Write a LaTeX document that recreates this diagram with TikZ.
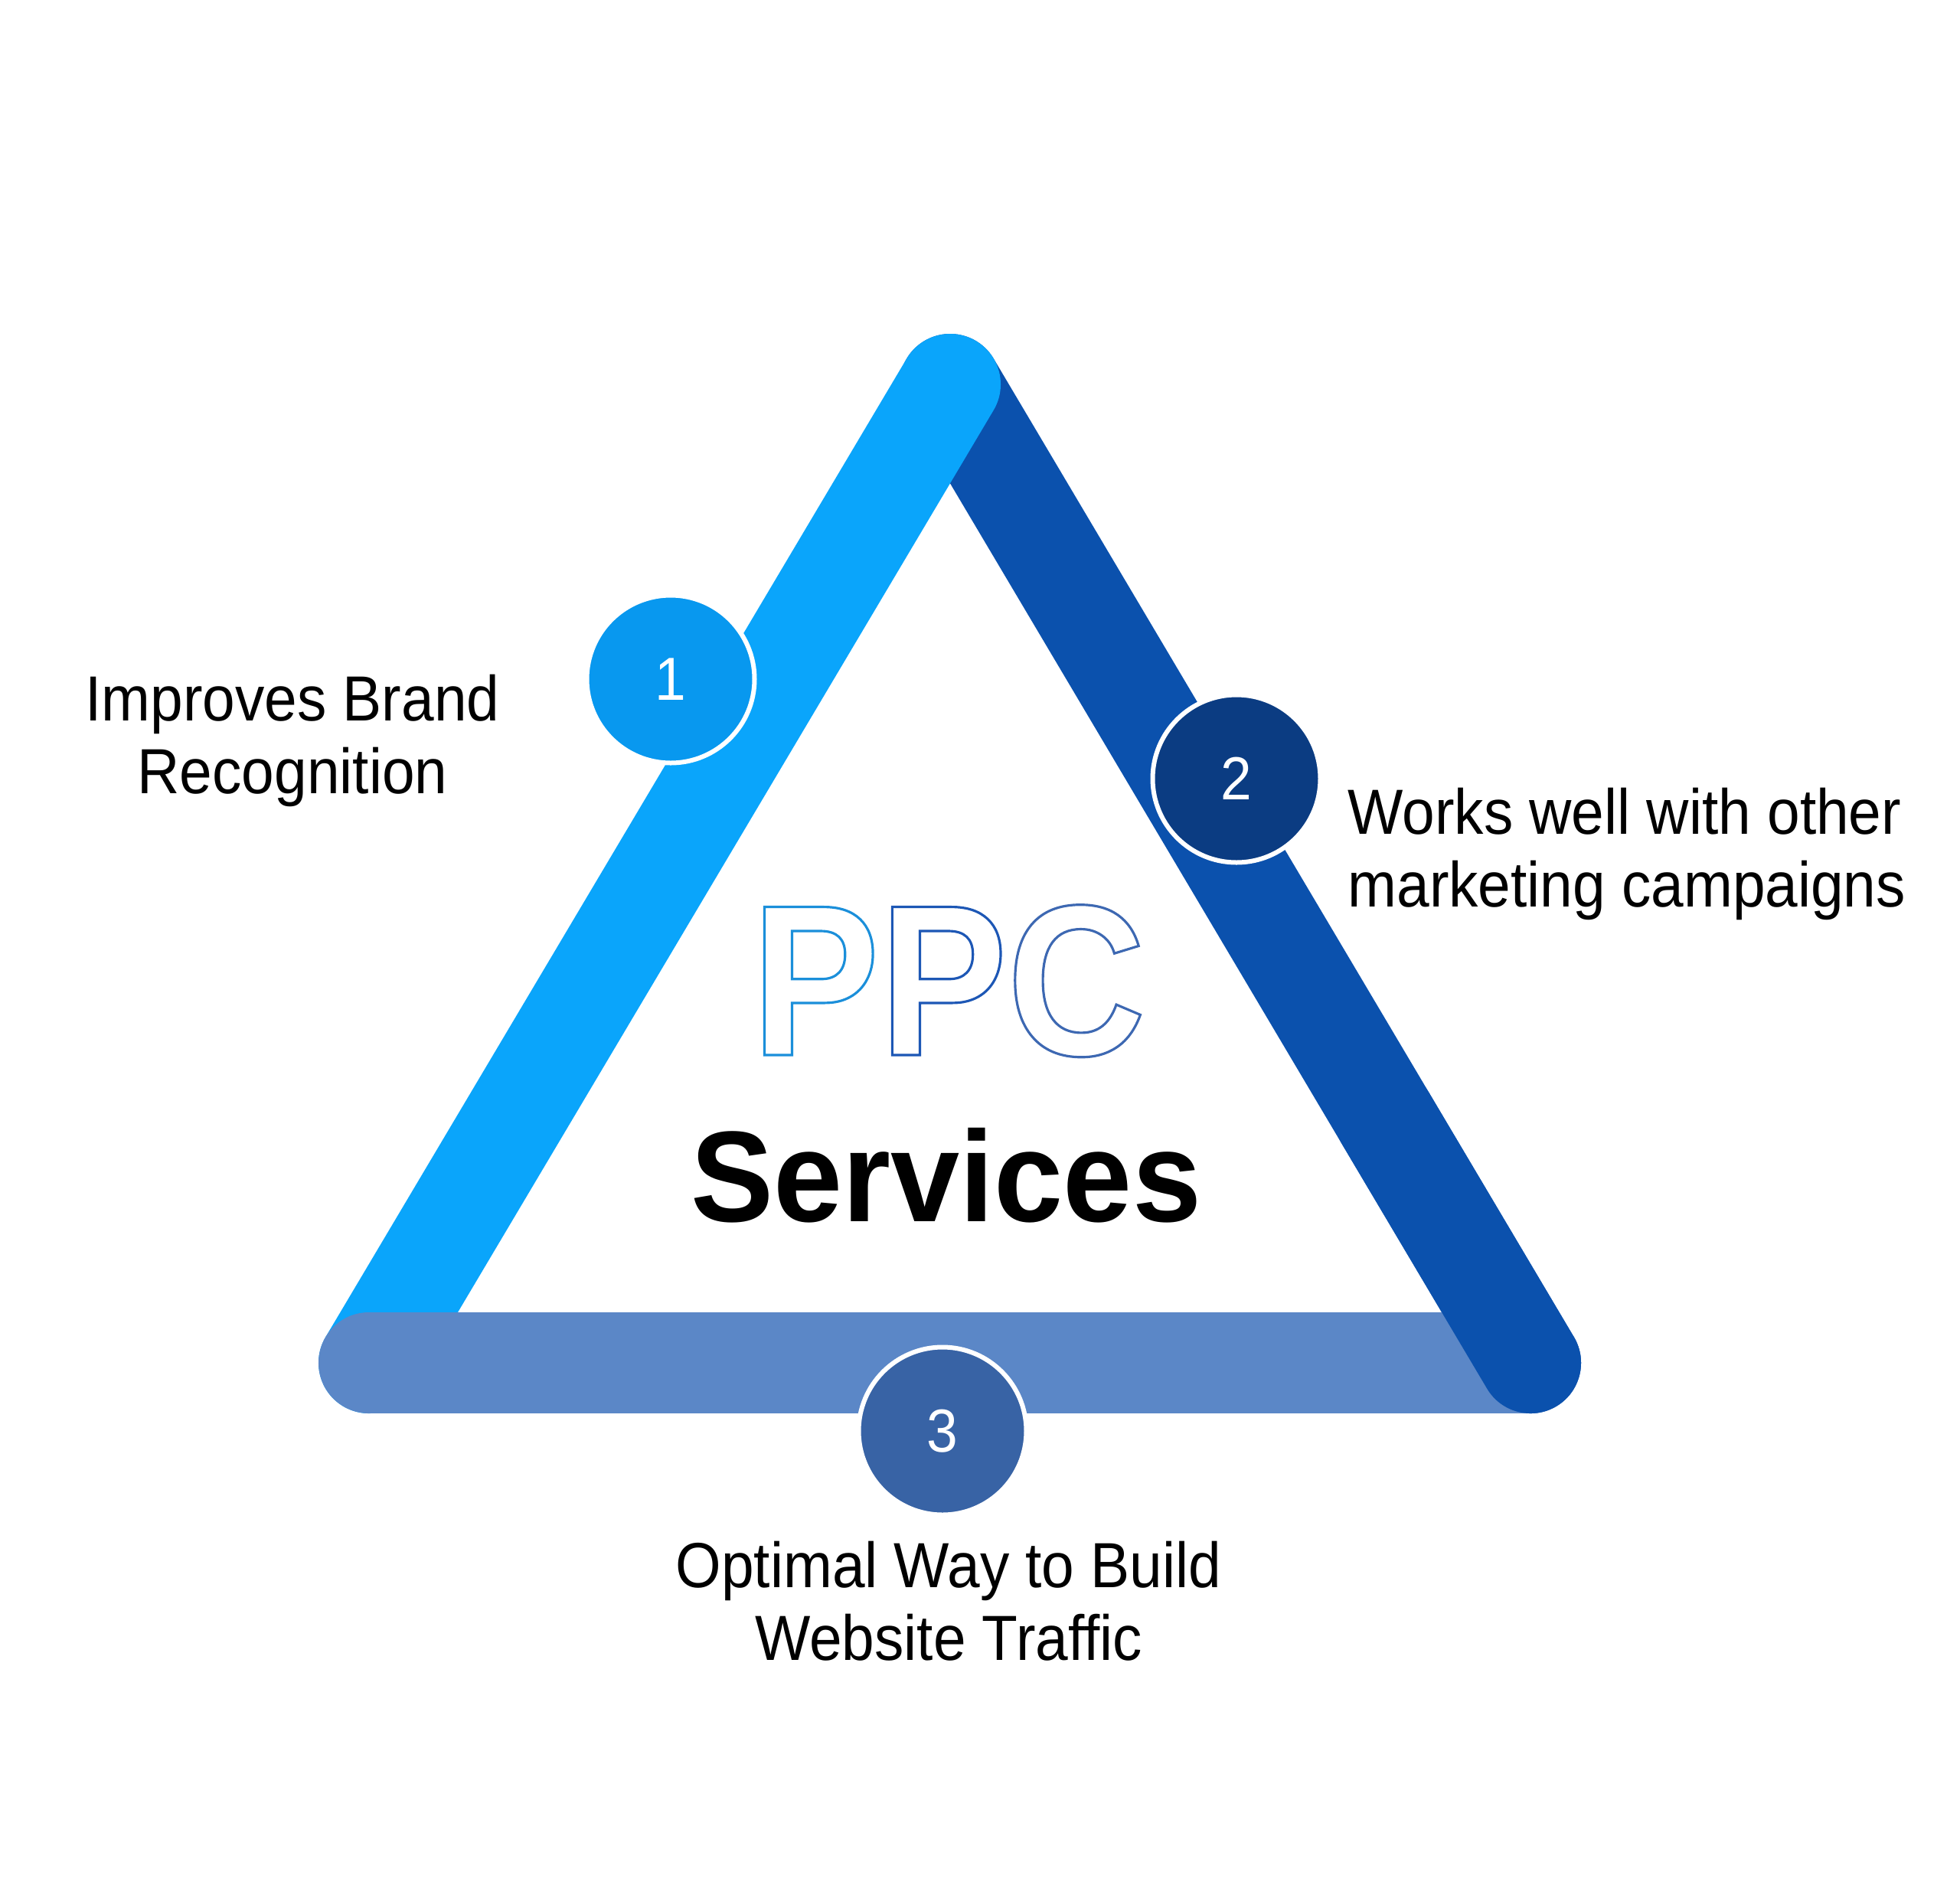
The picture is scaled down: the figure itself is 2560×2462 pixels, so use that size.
\documentclass[tikz,border=0pt]{standalone}
\usepackage{fontspec}
\usepackage{xcolor}
\usepackage{tikz}
\usetikzlibrary{calc}
\setmainfont{Liberation Sans}
\newfontfamily\labelfont[FakeStretch=0.92]{Liberation Sans}
\newfontfamily\headfont[FakeStretch=0.96]{Liberation Sans}
\newfontfamily\ppcfont[FakeStretch=0.89]{Liberation Sans}
\definecolor{leglight}{RGB}{10,165,251}
\definecolor{legdark}{RGB}{11,81,173}
\definecolor{legbar}{RGB}{91,135,199}
\definecolor{badgeone}{RGB}{8,152,239}
\definecolor{badgetwo}{RGB}{11,60,130}
\definecolor{badgethree}{RGB}{56,99,165}
\definecolor{ppcA}{RGB}{27,143,218}
\definecolor{ppcB}{RGB}{29,87,181}
\definecolor{ppcC}{RGB}{61,104,178}
\newcommand{\outlinetext}[1]{\special{pdf:literal direct 1 Tr 0.9 w}#1\special{pdf:literal direct 0 Tr}}

\begin{document}
\begin{tikzpicture}[
  x=0.1mm, y=-0.1mm,
  leg/.style={line width=13.2mm, line cap=round},
  badge/.style={circle, draw=white, line width=0.6mm, minimum size=21.9mm,
                inner sep=0pt, text=white,
                font=\labelfont\fontsize{22.6}{27}\selectfont},
  lbl/.style={inner sep=0pt, font=\labelfont\fontsize{23.7}{27}\selectfont}
]
\useasboundingbox (0,0) rectangle (2560,2462);

% ---------- triangle corners ----------
\coordinate (top) at (1241,502);
\coordinate (bl) at (482,1780);
\coordinate (br) at (1999,1780);

% ---------- three legs (dark one closes over the bar) ----------
\draw[leg, draw=legdark] (top) -- (br);
\draw[leg, draw=leglight] (top) -- (bl);
\draw[leg, draw=legbar] (bl) -- (br);
\draw[leg, draw=legdark] ($(top)!0.75!(br)$) -- (br);

% ---------- numbered badges ----------
\node[badge, fill=badgeone] (b1) at (876,887) {1};
\node[badge, fill=badgetwo] (b2) at (1615,1017) {2};
\node[badge, fill=badgethree] (b3) at (1231,1869) {3};

% ---------- labels ----------
\node[lbl, align=center] (t1) at (382,967) {Improves Brand\\Recognition};
\node[lbl, align=left, anchor=west] (t2) at (1760,1115)
  {Works well with other\\marketing campaigns};
\node[lbl, align=center] (t3) at (1239,2091) {Optimal Way to Build\\Website Traffic};

% ---------- centre title ----------
\node[anchor=base, inner sep=0pt, font=\ppcfont\bfseries\fontsize{80}{96}\selectfont]
  (ppc) at (1239,1378)
  {\outlinetext{\color{ppcA}P\color{ppcB}P\color{ppcC}C}};
\node[anchor=base, inner sep=0pt, font=\headfont\bfseries\fontsize{48}{58}\selectfont]
  (serv) at (1236,1595) {Services};

\end{tikzpicture}
\end{document}
